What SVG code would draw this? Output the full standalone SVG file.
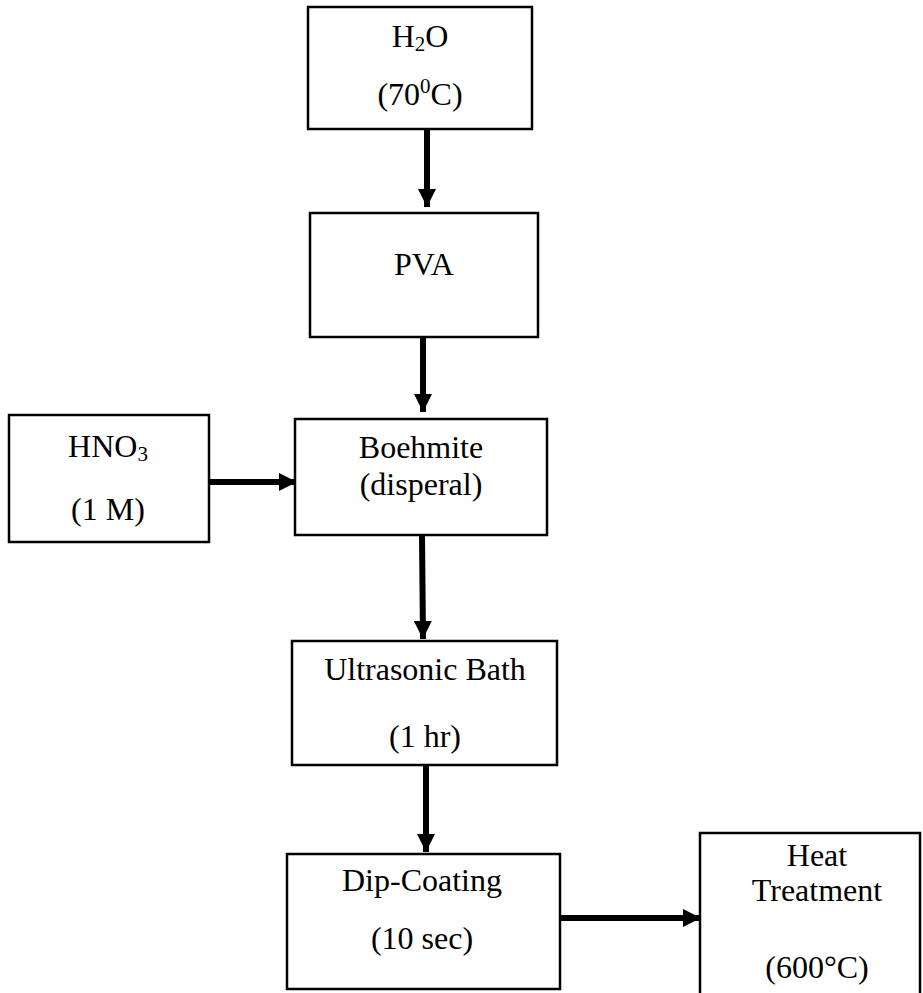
<svg xmlns="http://www.w3.org/2000/svg" width="923" height="993" viewBox="0 0 923 993">
<defs>
<style>
.box{fill:#fff;stroke:#000;stroke-width:2.5}
.t{font-family:"Liberation Serif","Times New Roman",serif;font-size:32px;fill:#000;text-anchor:middle}
.c{stroke:#000;stroke-width:6;fill:none}
</style>
<marker id="ah" viewBox="0 0 10 10" refX="10" refY="5" markerWidth="3" markerHeight="3" orient="auto" markerUnits="strokeWidth">
<path d="M0,0 L10,5 L0,10 Z" fill="#000"/>
</marker>
</defs>
<rect width="923" height="993" fill="#fff"/>
<g id="connectors">
<line class="c" x1="427" y1="130" x2="427" y2="207" marker-end="url(#ah)"/>
<line class="c" x1="423" y1="338" x2="423" y2="412" marker-end="url(#ah)"/>
<line class="c" x1="210" y1="482" x2="297" y2="482" marker-end="url(#ah)"/>
<line class="c" x1="422" y1="536" x2="423" y2="639" marker-end="url(#ah)"/>
<line class="c" x1="426" y1="766" x2="426" y2="852" marker-end="url(#ah)"/>
<line class="c" x1="561" y1="918" x2="701" y2="918" marker-end="url(#ah)"/>
</g>
<g id="h2o">
<rect class="box" x="308" y="7" width="224" height="122"/>
<text class="t" x="420" y="47">H<tspan font-size="21" dy="4">2</tspan><tspan dy="-4">O</tspan></text>
<text class="t" x="420" y="105">(70<tspan font-size="21" dy="-12">0</tspan><tspan dy="12">C)</tspan></text>
</g>
<g id="pva">
<rect class="box" x="310" y="213" width="228" height="124"/>
<text class="t" x="424" y="275">PVA</text>
</g>
<g id="hno3">
<rect class="box" x="9" y="415" width="200" height="127"/>
<text class="t" x="108" y="457">HNO<tspan font-size="21" dy="4">3</tspan></text>
<text class="t" x="108" y="520">(1 M)</text>
</g>
<g id="boehmite">
<rect class="box" x="295" y="419" width="252" height="116"/>
<text class="t" x="421" y="458">Boehmite</text>
<text class="t" x="421" y="495">(disperal)</text>
</g>
<g id="ultrasonic">
<rect class="box" x="292" y="641" width="265" height="124"/>
<text class="t" x="425" y="680">Ultrasonic Bath</text>
<text class="t" x="425" y="747">(1 hr)</text>
</g>
<g id="dipcoating">
<rect class="box" x="287" y="854" width="273" height="135"/>
<text class="t" x="422" y="891">Dip-Coating</text>
<text class="t" x="422" y="949">(10 sec)</text>
</g>
<g id="heat">
<rect class="box" x="700" y="833" width="220" height="170"/>
<text class="t" x="817" y="866">Heat</text>
<text class="t" x="817" y="901">Treatment</text>
<text class="t" x="817" y="978">(600°C)</text>
</g>
</svg>
